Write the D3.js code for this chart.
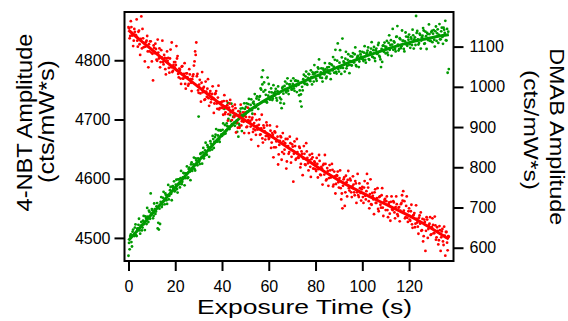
<!DOCTYPE html>
<html>
<head>
<meta charset="utf-8">
<script src="https://cdn.jsdelivr.net/npm/d3@7"></script>
<style>
  body { margin: 0; background: #fff; }
  svg { display: block; }
  text { font-family: "Liberation Sans", Arial, Helvetica, sans-serif; fill: #000; }
</style>
</head>
<body>
<svg id="chart" width="568" height="321"></svg>
<script>
// Spectra recorded every 0.25 s of exposure, 0 .. 137 s
const frameStep = 0.25;
const times = d3.range(0, 137 + 1e-9, frameStep);

// 4-NBT band amplitude per frame (cts/mW*s), left axis
const nbtValues = [
  4856, 4854, 4837, 4841, 4866, 4856, 4842, 4842, 4824, 4833, 4853, 4848, 4843, 4842, 4869, 4833, 4823, 4848, 4850, 4827,
  4809, 4836, 4874, 4820, 4853, 4837, 4822, 4829, 4798, 4823, 4831, 4833, 4841, 4815, 4788, 4827, 4815, 4832, 4832, 4813,
  4798, 4811, 4766, 4825, 4821, 4812, 4828, 4819, 4801, 4799, 4835, 4813, 4803, 4820, 4788, 4797, 4817, 4805, 4833, 4797,
  4793, 4809, 4804, 4785, 4776, 4803, 4815, 4799, 4804, 4787, 4779, 4803, 4818, 4788, 4830, 4780, 4782, 4792, 4797, 4788,
  4797, 4792, 4824, 4803, 4807, 4777, 4771, 4786, 4784, 4769, 4760, 4789, 4790, 4769, 4769, 4777, 4795, 4760, 4752, 4778,
  4778, 4771, 4757, 4760, 4785, 4776, 4768, 4762, 4748, 4768, 4773, 4776, 4791, 4798, 4815, 4809, 4830, 4773, 4777, 4749,
  4745, 4759, 4767, 4744, 4730, 4762, 4780, 4746, 4753, 4755, 4733, 4734, 4764, 4747, 4738, 4752, 4768, 4736, 4723, 4744,
  4748, 4729, 4734, 4743, 4756, 4736, 4711, 4727, 4743, 4744, 4748, 4727, 4718, 4737, 4757, 4717, 4719, 4729, 4728, 4720,
  4730, 4719, 4708, 4731, 4741, 4709, 4712, 4722, 4731, 4724, 4698, 4709, 4720, 4727, 4733, 4712, 4689, 4699, 4722, 4716,
  4705, 4704, 4725, 4719, 4678, 4698, 4695, 4686, 4714, 4707, 4686, 4710, 4725, 4690, 4697, 4705, 4712, 4696, 4677, 4706,
  4712, 4704, 4687, 4688, 4720, 4699, 4677, 4704, 4697, 4688, 4666, 4700, 4703, 4679, 4684, 4694, 4709, 4682, 4674, 4699,
  4689, 4683, 4655, 4691, 4700, 4674, 4675, 4685, 4708, 4668, 4661, 4690, 4686, 4680, 4666, 4672, 4695, 4690, 4672, 4672,
  4667, 4669, 4690, 4681, 4652, 4661, 4677, 4674, 4636, 4653, 4680, 4678, 4653, 4663, 4688, 4671, 4624, 4641, 4657, 4664,
  4672, 4670, 4632, 4645, 4677, 4663, 4642, 4649, 4660, 4667, 4617, 4629, 4667, 4655, 4642, 4645, 4671, 4660, 4627, 4637,
  4658, 4654, 4595, 4642, 4663, 4655, 4632, 4634, 4667, 4645, 4636, 4635, 4654, 4652, 4619, 4625, 4646, 4642, 4606, 4634,
  4655, 4642, 4624, 4623, 4660, 4646, 4635, 4626, 4614, 4631, 4640, 4620, 4603, 4633, 4642, 4636, 4617, 4617, 4629, 4627,
  4616, 4613, 4635, 4625, 4602, 4616, 4640, 4630, 4607, 4606, 4620, 4617, 4590, 4623, 4625, 4607, 4640, 4625, 4597, 4599,
  4618, 4613, 4588, 4601, 4623, 4614, 4602, 4603, 4625, 4615, 4587, 4590, 4612, 4604, 4575, 4591, 4606, 4605, 4612, 4594,
  4585, 4601, 4614, 4584, 4565, 4575, 4550, 4588, 4599, 4602, 4554, 4577, 4605, 4594, 4570, 4598, 4613, 4584, 4580, 4600,
  4597, 4577, 4569, 4587, 4604, 4590, 4577, 4572, 4596, 4592, 4559, 4577, 4608, 4572, 4569, 4592, 4584, 4576, 4563, 4582,
  4586, 4569, 4559, 4585, 4596, 4571, 4565, 4579, 4608, 4592, 4585, 4562, 4550, 4574, 4599, 4557, 4556, 4576, 4571, 4565,
  4540, 4577, 4582, 4559, 4559, 4567, 4584, 4549, 4545, 4569, 4570, 4556, 4551, 4572, 4584, 4551, 4537, 4560, 4564, 4566,
  4547, 4562, 4570, 4547, 4535, 4557, 4560, 4541, 4529, 4561, 4570, 4548, 4547, 4562, 4560, 4543, 4533, 4552, 4570, 4557,
  4540, 4537, 4551, 4552, 4528, 4546, 4557, 4559, 4572, 4563, 4579, 4546, 4562, 4533, 4535, 4554, 4570, 4534, 4527, 4545,
  4550, 4531, 4529, 4545, 4556, 4523, 4517, 4538, 4539, 4542, 4518, 4524, 4555, 4532, 4526, 4519, 4507, 4534, 4538, 4524,
  4543, 4512, 4513, 4532, 4494, 4503, 4531, 4527, 4478, 4512, 4535, 4531, 4500, 4515, 4522, 4524, 4535, 4505, 4506, 4518,
  4533, 4522, 4508, 4508, 4536, 4521, 4497, 4501, 4518, 4512, 4489, 4496, 4520, 4513, 4478, 4501, 4511, 4515, 4494, 4488,
  4519, 4504, 4470, 4510, 4510, 4492, 4479, 4503, 4502
];

// DMAB band amplitude per frame (cts/mW*s), right axis
const dmabValues = [
  580, 612, 596, 629, 633, 614, 603, 640, 645, 630, 629, 650, 658, 631, 629, 647, 648, 657, 672, 643,
  635, 655, 664, 643, 650, 667, 679, 659, 644, 678, 674, 659, 699, 677, 664, 692, 689, 672, 735, 685,
  696, 693, 673, 679, 710, 696, 684, 690, 703, 711, 648, 662, 645, 697, 659, 714, 726, 701, 707, 724,
  739, 716, 708, 735, 731, 718, 709, 731, 756, 720, 729, 743, 751, 734, 718, 752, 753, 748, 765, 740,
  742, 757, 769, 746, 737, 770, 770, 758, 750, 773, 791, 758, 764, 775, 786, 785, 755, 773, 785, 784,
  802, 773, 775, 796, 799, 789, 768, 807, 812, 791, 797, 807, 824, 796, 792, 822, 817, 808, 805, 822,
  926, 814, 808, 833, 835, 824, 809, 837, 848, 822, 828, 842, 861, 833, 831, 855, 850, 850, 826, 842,
  865, 859, 851, 844, 878, 870, 848, 863, 875, 881, 895, 865, 864, 879, 892, 869, 863, 892, 891, 882,
  878, 893, 909, 882, 945, 905, 884, 891, 909, 902, 960, 920, 901, 895, 930, 915, 958, 907, 905, 925,
  934, 911, 903, 929, 932, 909, 888, 929, 876, 908, 903, 938, 946, 930, 890, 947, 921, 931, 959, 945,
  931, 950, 959, 938, 913, 957, 970, 945, 944, 955, 969, 942, 933, 960, 963, 957, 982, 949, 950, 971,
  976, 956, 945, 968, 975, 977, 996, 993, 1024, 1006, 1041, 988, 1011, 964, 992, 980, 962, 961, 1023, 978,
  1007, 987, 968, 972, 996, 986, 967, 971, 1004, 984, 978, 988, 995, 972, 966, 989, 1001, 983, 985, 973,
  960, 969, 947, 997, 1000, 983, 958, 1002, 1013, 990, 986, 1008, 1021, 990, 982, 1006, 1006, 1000, 1015, 993,
  994, 1007, 1021, 996, 990, 1015, 1016, 1002, 987, 1014, 1014, 1005, 979, 991, 964, 981, 951, 1000, 991, 1019,
  1030, 1009, 1007, 1026, 1038, 1007, 1005, 1022, 1032, 1031, 1016, 1014, 1041, 1024, 1006, 1036, 1031, 1013, 1054, 1033,
  1036, 1020, 1015, 1037, 1048, 1045, 1068, 1027, 1023, 1036, 1046, 1022, 1013, 1045, 1040, 1031, 1059, 1043, 1021, 1025,
  1048, 1041, 1035, 1049, 1058, 1033, 1019, 1056, 1054, 1041, 1074, 1050, 1035, 1067, 1092, 1037, 1033, 1065, 1108, 1044,
  1038, 1060, 1091, 1047, 1032, 1073, 1120, 1047, 1063, 1061, 1038, 1070, 1087, 1046, 1052, 1067, 1081, 1054, 1034, 1064,
  1076, 1054, 1053, 1075, 1084, 1061, 1061, 1081, 1098, 1054, 1051, 1072, 1076, 1077, 1049, 1063, 1088, 1081, 1075, 1070,
  1087, 1068, 1064, 1085, 1101, 1067, 1060, 1082, 1085, 1090, 1098, 1069, 1067, 1083, 1086, 1095, 1111, 1075, 1074, 1091,
  1099, 1071, 1064, 1091, 1095, 1082, 1082, 1104, 1109, 1077, 1074, 1068, 1049, 1094, 1062, 1102, 1103, 1087, 1110, 1100,
  1083, 1099, 1114, 1085, 1079, 1109, 1128, 1092, 1104, 1116, 1077, 1105, 1144, 1092, 1113, 1110, 1094, 1088, 1124, 1125,
  1151, 1105, 1090, 1094, 1121, 1118, 1096, 1101, 1140, 1114, 1115, 1094, 1088, 1113, 1135, 1125, 1104, 1102, 1124, 1117,
  1130, 1106, 1097, 1123, 1119, 1104, 1142, 1128, 1095, 1118, 1123, 1104, 1176, 1134, 1139, 1118, 1105, 1109, 1132, 1129,
  1095, 1115, 1123, 1127, 1146, 1140, 1107, 1108, 1137, 1126, 1094, 1134, 1131, 1116, 1155, 1131, 1114, 1114, 1136, 1139,
  1111, 1132, 1141, 1117, 1100, 1138, 1150, 1114, 1133, 1143, 1109, 1129, 1156, 1118, 1118, 1138, 1147, 1124, 1107, 1147,
  1142, 1134, 1164, 1116, 1115, 1144, 1035, 1137, 1044
];

// Fitted kinetic curves
const fitTimes = [0, 5, 10, 15, 20, 25, 30, 35, 40, 45, 50, 55, 60, 65, 70, 75, 80, 85, 90, 95, 100, 105, 110, 115, 120, 125, 130, 135, 137];
const nbtFit = [4851, 4834, 4818, 4801, 4785, 4770, 4755, 4739, 4724, 4711, 4698, 4686, 4675, 4661, 4648, 4635, 4622, 4609, 4597, 4586, 4576, 4566, 4557, 4547, 4538, 4527, 4515, 4503, 4498];
const dmabFit = [618, 650, 684, 716, 750, 783, 816, 849, 881, 910, 934, 955, 972, 988, 1001, 1014, 1026, 1038, 1050, 1062, 1073, 1083, 1093, 1102, 1110, 1117, 1123, 1128, 1130];

// Axis ticks
const timeTicks = [0, 20, 40, 60, 80, 100, 120];
const nbtTicks = [4500, 4600, 4700, 4800];
const dmabTicks = [600, 700, 800, 900, 1000, 1100];

const nbtColor = "#ff0000";
const dmabColor = "#009a00";

const svg = d3.select("#chart");
const box = { left: 124.5, right: 453.5, top: 12, bottom: 261 };

const x = d3.scaleLinear().domain([-1.7, 139]).range([box.left, box.right]);
const yL = d3.scaleLinear().domain([4461, 4881.5]).range([box.bottom, box.top]);
const yR = d3.scaleLinear().domain([567, 1186]).range([box.bottom, box.top]);

svg.append("clipPath").attr("id", "plotClip")
  .append("rect")
  .attr("x", box.left).attr("y", box.top)
  .attr("width", box.right - box.left).attr("height", box.bottom - box.top);

const plot = svg.append("g").attr("clip-path", "url(#plotClip)");

const nbtPoints = times.map((t, i) => ({ t, v: nbtValues[i] }));
const dmabPoints = times.map((t, i) => ({ t, v: dmabValues[i] }));

plot.append("g").selectAll("circle").data(dmabPoints).join("circle")
  .attr("cx", d => x(d.t)).attr("cy", d => yR(d.v)).attr("r", 1.4)
  .attr("fill", dmabColor);

plot.append("g").selectAll("circle").data(nbtPoints).join("circle")
  .attr("cx", d => x(d.t)).attr("cy", d => yL(d.v)).attr("r", 1.4)
  .attr("fill", nbtColor);

const dmabLine = d3.line().x((d, i) => x(fitTimes[i])).y(d => yR(d)).curve(d3.curveBasis);
const nbtLine = d3.line().x((d, i) => x(fitTimes[i])).y(d => yL(d)).curve(d3.curveBasis);

plot.append("path").attr("d", dmabLine(dmabFit))
  .attr("fill", "none").attr("stroke", dmabColor).attr("stroke-width", 3);
plot.append("path").attr("d", nbtLine(nbtFit))
  .attr("fill", "none").attr("stroke", nbtColor).attr("stroke-width", 3);

// Frame around the plot area
svg.append("rect")
  .attr("x", box.left).attr("y", box.top)
  .attr("width", box.right - box.left).attr("height", box.bottom - box.top)
  .attr("fill", "none").attr("stroke", "#000").attr("stroke-width", 2);

function styleAxis(g) {
  g.select(".domain").remove();
  g.selectAll(".tick line").attr("stroke", "#000").attr("stroke-width", 2);
  g.selectAll(".tick text").attr("font-size", 16).attr("fill", "#000")
    .attr("font-family", "Liberation Sans, Arial, sans-serif");
}

svg.append("g").attr("transform", `translate(0,${box.bottom})`)
  .call(d3.axisBottom(x).tickValues(timeTicks).tickSize(10).tickPadding(10).tickFormat(d3.format("d")))
  .call(styleAxis);

svg.append("g").attr("transform", `translate(${box.left},0)`)
  .call(d3.axisLeft(yL).tickValues(nbtTicks).tickSize(10).tickPadding(4).tickFormat(d3.format("d")))
  .call(styleAxis);

svg.append("g").attr("transform", `translate(${box.right},0)`)
  .call(d3.axisRight(yR).tickValues(dmabTicks).tickSize(10).tickPadding(6).tickFormat(d3.format("d")))
  .call(styleAxis);

// Axis titles
svg.append("text")
  .attr("x", 304.5).attr("y", 314)
  .attr("text-anchor", "middle").attr("font-size", 21)
  .attr("textLength", 215).attr("lengthAdjust", "spacingAndGlyphs")
  .text("Exposure Time (s)");

const leftTitle = svg.append("g");
leftTitle.append("text")
  .attr("transform", "translate(32,122.5) rotate(-90)")
  .attr("text-anchor", "middle").attr("font-size", 22)
  .attr("textLength", 178).attr("lengthAdjust", "spacingAndGlyphs")
  .text("4-NBT Amplitude");
leftTitle.append("text")
  .attr("transform", "translate(53.5,121.5) rotate(-90)")
  .attr("text-anchor", "middle").attr("font-size", 22)
  .attr("textLength", 123).attr("lengthAdjust", "spacingAndGlyphs")
  .text("(cts/mW*s)");

const rightTitle = svg.append("g");
rightTitle.append("text")
  .attr("transform", "translate(549.5,136.7) rotate(90)")
  .attr("text-anchor", "middle").attr("font-size", 21)
  .attr("textLength", 177).attr("lengthAdjust", "spacingAndGlyphs")
  .text("DMAB Amplitude");
rightTitle.append("text")
  .attr("transform", "translate(524,130) rotate(90)")
  .attr("text-anchor", "middle").attr("font-size", 21)
  .attr("textLength", 120).attr("lengthAdjust", "spacingAndGlyphs")
  .text("(cts/mW*s)");
</script>
</body>
</html>
